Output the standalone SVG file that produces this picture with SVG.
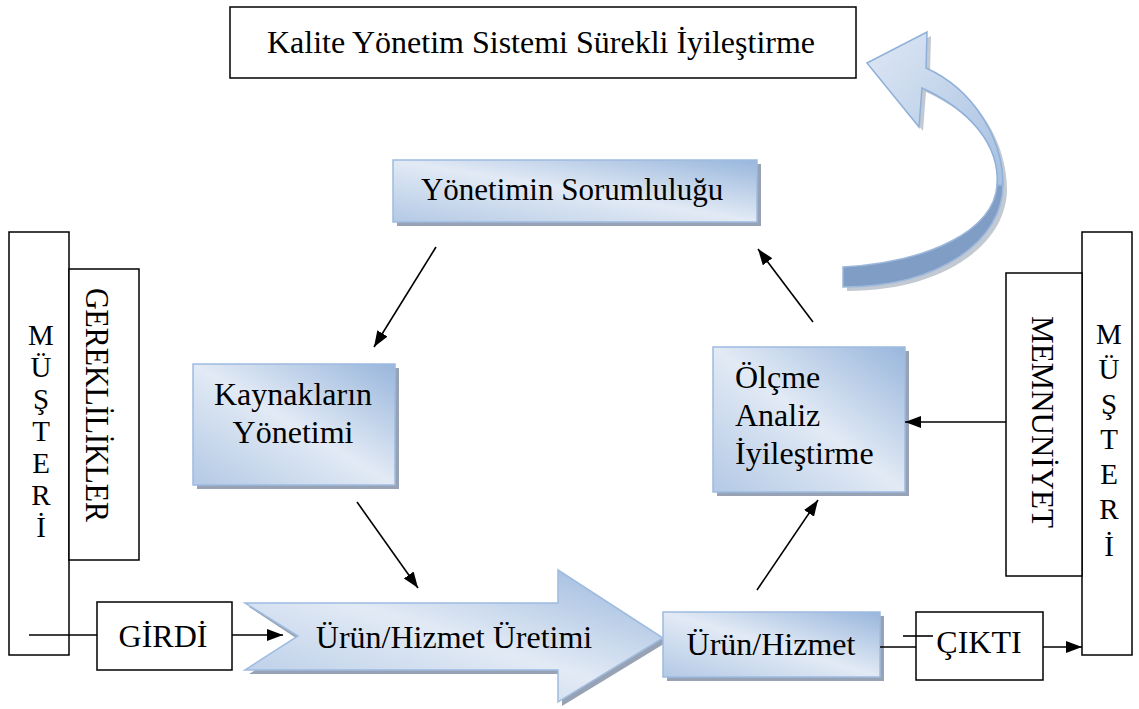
<svg xmlns="http://www.w3.org/2000/svg" width="1139" height="709" viewBox="0 0 1139 709">
  <style>
    text { font-family: "Liberation Serif", "Times New Roman", serif; font-size: 32px; fill: #000; }
    .plain { fill: #fff; stroke: #000; stroke-width: 1.5; }
    .blue { fill: url(#blueFill); stroke: #9fbbdf; stroke-width: 1.5; }
    .shadow { fill: #97a3b4; }
    .wire { stroke: #000; stroke-width: 1.6; fill: none; }
    .arrow { marker-end: url(#head); }
    .mid { text-anchor: middle; }
    .letter { text-anchor: middle; font-size: 29px; }
  </style>
  <defs>
    <linearGradient id="blueFill" x1="1" y1="0" x2="0" y2="1">
      <stop offset="0" stop-color="#98b6dc"/>
      <stop offset="0.5" stop-color="#e2eaf5"/>
      <stop offset="1" stop-color="#b3c9e5"/>
    </linearGradient>
    <linearGradient id="curlTop" x1="0" y1="0" x2="1" y2="1">
      <stop offset="0" stop-color="#dfe8f4"/>
      <stop offset="1" stop-color="#a6c0e1"/>
    </linearGradient>
    <marker id="head" viewBox="0 0 16 12" refX="16" refY="6" markerWidth="16" markerHeight="12" markerUnits="userSpaceOnUse" orient="auto">
      <path d="M0,0 L16,6 L0,12 Z" fill="#000"/>
    </marker>
  </defs>

  <!-- quality system continual improvement banner -->
  <g id="kalite">
    <rect class="plain" x="230" y="7" width="626" height="71"/>
    <text class="mid" x="541" y="53">Kalite Yönetim Sistemi Sürekli İyileştirme</text>
  </g>

  <!-- curved feedback arrow -->
  <g id="dongu">
    <path d="M871,67 L931,36 L930,72 C979,94 1007,144 1007,189 C1007,244 944,291 847,291 L847,271 C934,266 998,234 1001,189 C1004,149 974,114 926,92 L923,131 Z" fill="#a8b2c0" opacity="0.7"/>
    <path d="M867,63 L927,32 L926,68 C975,90 1003,140 1003,185 L997,185 C1000,145 970,110 922,88 L919,127 Z" fill="url(#curlTop)" stroke="#8fb0d8" stroke-width="1.5"/>
    <path d="M1003,185 C1003,240 940,287 843,287 L843,267 C930,262 994,230 997,185 Z" fill="#7f9dc5" stroke="#9db8dc" stroke-width="1.5"/>
  </g>

  <!-- process boxes -->
  <g id="yonetim">
    <rect class="shadow" x="397" y="164" width="364" height="62"/>
    <rect class="blue" x="393" y="160" width="364" height="62"/>
    <text class="mid" x="572" y="200" style="font-size:31px">Yönetimin Sorumluluğu</text>
  </g>

  <g id="kaynak">
    <rect class="shadow" x="197" y="368" width="202" height="121"/>
    <rect class="blue" x="193" y="364" width="202" height="121"/>
    <text class="mid" x="293" y="405">Kaynakların</text>
    <text class="mid" x="293" y="443">Yönetimi</text>
  </g>

  <g id="olcme">
    <rect class="shadow" x="717" y="351" width="192" height="145"/>
    <rect class="blue" x="713" y="347" width="192" height="145"/>
    <text x="735" y="388">Ölçme</text>
    <text x="735" y="426">Analiz</text>
    <text x="735" y="464">İyileştirme</text>
  </g>

  <g id="uretim">
    <path class="shadow" d="M249,607 L562,607 L562,574 L667,642 L562,706 L562,674 L249,674 L302,642 Z"/>
    <path class="blue" d="M245,603 L558,603 L558,570 L663,638 L558,702 L558,670 L245,670 L298,636 Z"/>
    <text class="mid" x="454" y="648">Ürün/Hizmet Üretimi</text>
  </g>

  <g id="urun">
    <rect class="shadow" x="667" y="616" width="217" height="65"/>
    <rect class="blue" x="663" y="612" width="217" height="65"/>
    <text class="mid" x="771" y="655">Ürün/Hizmet</text>
  </g>

  <!-- customer side, input -->
  <g id="musteri-sol">
    <rect class="plain" x="9" y="232" width="60" height="423"/>
    <text class="letter" x="41" y="345">M</text>
    <text class="letter" x="41" y="377">Ü</text>
    <text class="letter" x="41" y="409">Ş</text>
    <text class="letter" x="41" y="441">T</text>
    <text class="letter" x="41" y="473">E</text>
    <text class="letter" x="41" y="505">R</text>
    <text class="letter" x="41" y="537">İ</text>
  </g>

  <g id="gereklilikler">
    <rect class="plain" x="69" y="269" width="70" height="291"/>
    <text class="mid" transform="translate(86,405) rotate(90)" textLength="234" lengthAdjust="spacingAndGlyphs" style="font-size:34px">GEREKLİLİKLER</text>
  </g>

  <g id="girdi">
    <rect class="plain" x="97" y="602" width="135" height="68"/>
    <text class="mid" x="163" y="647">GİRDİ</text>
  </g>

  <!-- customer side, output -->
  <g id="musteri-sag">
    <rect class="plain" x="1082" y="232" width="50" height="423"/>
    <text class="letter" x="1109" y="344">M</text>
    <text class="letter" x="1109" y="379">Ü</text>
    <text class="letter" x="1109" y="414">Ş</text>
    <text class="letter" x="1109" y="449">T</text>
    <text class="letter" x="1109" y="484">E</text>
    <text class="letter" x="1109" y="519">R</text>
    <text class="letter" x="1109" y="556">İ</text>
  </g>

  <g id="memnuniyet">
    <rect class="plain" x="1006" y="273" width="76" height="303"/>
    <text class="mid" transform="translate(1032,422) rotate(90)" style="font-size:31px">MEMNUNİYET</text>
  </g>

  <g id="cikti">
    <rect class="plain" x="916" y="612" width="127" height="68"/>
    <text class="mid" x="979" y="653">ÇIKTI</text>
  </g>

  <!-- connectors -->
  <g id="baglantilar">
    <line class="wire arrow" x1="436" y1="247" x2="374" y2="347"/>
    <line class="wire arrow" x1="357" y1="502" x2="418" y2="588"/>
    <line class="wire arrow" x1="757" y1="590" x2="818" y2="500"/>
    <line class="wire arrow" x1="813" y1="322" x2="758" y2="249"/>
    <line class="wire arrow" x1="1006" y1="422" x2="905" y2="422"/>
    <line class="wire" x1="29" y1="635" x2="97" y2="635"/>
    <line class="wire arrow" x1="232" y1="635" x2="283" y2="635"/>
    <line class="wire" x1="880" y1="647" x2="916" y2="647"/>
    <line class="wire" x1="903" y1="636" x2="933" y2="636"/>
    <line class="wire arrow" x1="1043" y1="647" x2="1082" y2="647"/>
  </g>
</svg>
